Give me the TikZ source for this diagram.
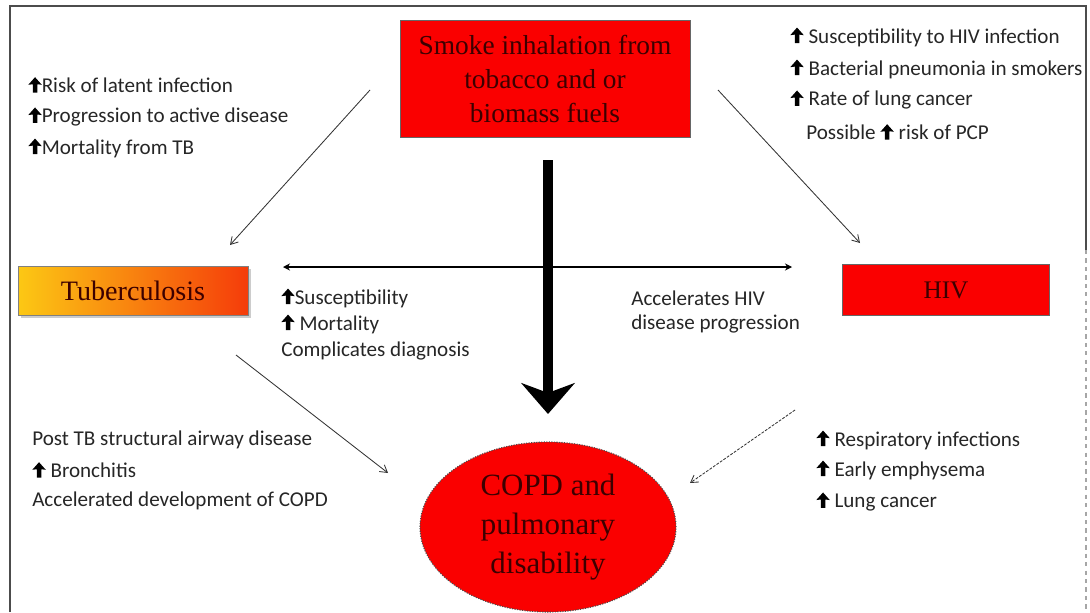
\documentclass[tikz,border=0pt]{standalone}
\usepackage{fontspec}
\setmainfont{Carlito}
\newfontfamily\boxf{Liberation Serif}
\usetikzlibrary{arrows.meta,shadows,shapes.geometric}
\newcommand{\uparr}{\tikz[baseline=0pt,x=1pt,y=1pt]{\fill[black] (-1.6,0) -- (-1.6,6) -- (-4.8,5.6) -- (0,11) -- (4.8,5.6) -- (1.6,6) -- (1.6,0) -- cycle;}}
\definecolor{boxred}{RGB}{250,0,0}
\definecolor{boxtext}{RGB}{60,0,0}
\definecolor{tbyellow}{RGB}{252,200,20}
\definecolor{tborange}{RGB}{245,60,10}
\tikzset{
  lab/.style={font=\fontsize{15}{22}\selectfont, align=left, inner sep=0pt, anchor=west, text=black!85},
  redbox/.style={fill=boxred, draw=black!60, line width=0.6pt, text=boxtext, font=\boxf\fontsize{19.5}{24}\selectfont, align=center, inner sep=0pt},
  thin arrow/.style={draw=black!80, line width=0.6pt, -{Straight Barb[length=5pt,width=6pt]}},
  frame/.style={draw=black!70, line width=0.8pt}
}
\begin{document}
\begin{tikzpicture}[x=0.025cm,y=-0.025cm]
\useasboundingbox (0,0) rectangle (1090,612);
% frame
\draw[frame] (10,612) -- (10,6) -- (1086,6) -- (1086,250);
\draw[frame, draw=black!35, dashed] (1086,250) -- (1086,612);

% top box
\node[redbox, minimum width=290*0.025cm, minimum height=117*0.025cm] (smoke) at (545,79) {Smoke inhalation from\\tobacco and or\\biomass fuels};

% TB and HIV
\node[draw=black!50, line width=0.5pt, left color=tbyellow, right color=tborange, drop shadow={shadow xshift=2pt, shadow yshift=-2pt, opacity=0.4}, minimum width=230*0.025cm, minimum height=49*0.025cm, text=boxtext, font=\boxf\fontsize{20}{22}\selectfont, inner sep=0pt] (tb) at (133,291) {Tuberculosis};
\node[redbox, minimum width=207*0.025cm, minimum height=51*0.025cm, font=\boxf\fontsize{18}{20}\selectfont] (hiv) at (946,290) {HIV};

% COPD ellipse
\node[ellipse, fill=boxred, draw=black!70, densely dotted, line width=0.8pt, minimum width=256*0.025cm, minimum height=170*0.025cm, text=boxtext, font=\boxf\fontsize{22}{28}\selectfont, align=center, inner sep=0pt] (copd) at (548,527) {COPD and\\pulmonary\\disability};

% coordinates for arrow ends
\coordinate (tlA) at (370,90);
\coordinate (tlB) at (230,245);
\coordinate (trA) at (718,90);
\coordinate (trB) at (860,243);
\coordinate (blA) at (236,355);
\coordinate (blB) at (388,473);
\coordinate (brA) at (795,410);
\coordinate (brB) at (690,483);
\coordinate (hL) at (283,267);
\coordinate (hR) at (792,267);
\coordinate (vT) at (548,160);
\coordinate (vB) at (548,414);

\draw[thin arrow] (tlA) -- (tlB);
\draw[thin arrow] (trA) -- (trB);
\draw[thin arrow] (blA) -- (blB);
\draw[thin arrow, dash pattern=on 2pt off 1pt] (brA) -- (brB);

% horizontal double arrow
\draw[line width=1.6pt, {Stealth[length=5pt,width=5pt]}-{Stealth[length=5pt,width=5pt]}] (hL) -- (hR);
% vertical thick arrow
\draw[line width=6.5pt, -{Stealth[length=22pt,width=38pt,inset=7pt]}] (vT) -- (vB);

% lists
\node[lab] (l1) at (28,85) {\uparr Risk of latent infection};
\node[lab] (l2) at (28,117) {\uparr Progression to active disease};
\node[lab] (l3) at (28,148) {\uparr Mortality from TB};

\node[lab] (r1) at (790,37) {\uparr\ Susceptibility to HIV infection};
\node[lab] (r2) at (790,69) {\uparr\ Bacterial pneumonia in smokers};
\node[lab] (r3) at (790,100) {\uparr\ Rate of lung cancer};
\node[lab] (r4) at (806,132) {Possible \uparr\ risk of PCP};

\node[lab] (c1) at (281,298) {\uparr Susceptibility};
\node[lab] (c2) at (281,324) {\uparr\ Mortality};
\node[lab] (c3) at (281,351) {Complicates diagnosis};

\node[lab] (d1) at (631,298) {Accelerates HIV};
\node[lab] (d2) at (631,324) {disease progression};

\node[lab] (b1) at (32,440) {Post TB structural airway disease};
\node[lab] (b2) at (32,470) {\uparr\ Bronchitis};
\node[lab] (b3) at (32,501) {Accelerated development of COPD};

\node[lab] (e1) at (816,440) {\uparr\ Respiratory infections};
\node[lab] (e2) at (816,470) {\uparr\ Early emphysema};
\node[lab] (e3) at (816,502) {\uparr\ Lung cancer};
\end{tikzpicture}
\end{document}
